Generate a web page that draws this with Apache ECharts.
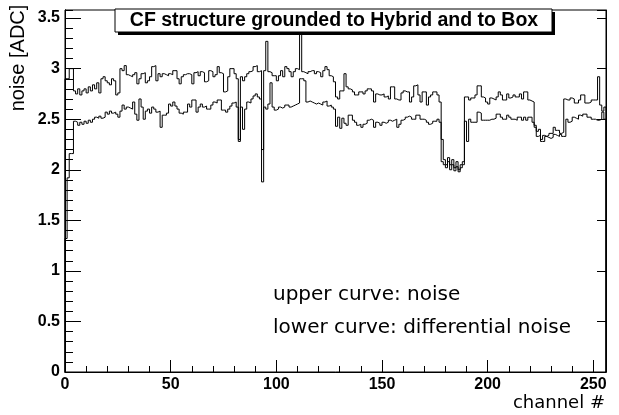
<!DOCTYPE html>
<html>
<head>
<meta charset="utf-8">
<script src="https://cdn.jsdelivr.net/npm/echarts@6/dist/echarts.min.js"></script>
<style>
  html, body { margin: 0; padding: 0; background: #fff; }
  #chart { width: 619px; height: 415px; }
</style>
</head>
<body>
<div id="chart"></div>
<script>
// noise per channel (bin k covers [k, k+1])
const upperNoise = [
  2.90, 2.90, 3.00, 3.00, 2.78, 2.75, 2.80, 2.74, 2.78, 2.80,
  2.76, 2.82, 2.78, 2.84, 2.80, 2.86, 2.76, 2.90, 2.92, 2.88,
  2.86, 2.84, 2.90, 2.88, 2.74, 2.76, 3.00, 2.98, 3.03, 2.94,
  2.93, 2.92, 2.94, 2.96, 2.85, 2.90, 2.95, 2.96, 2.86, 2.88,
  2.92, 3.02, 3.03, 2.88, 2.95, 2.92, 2.95, 2.94, 2.93, 2.95,
  2.94, 2.98, 2.98, 2.90, 2.85, 2.92, 2.94, 2.95, 2.95, 2.94,
  2.85, 2.96, 2.97, 2.93, 2.97, 2.96, 2.87, 2.88, 2.98, 2.97,
  2.92, 2.94, 3.02, 2.96, 2.95, 2.77, 2.78, 2.92, 3.00, 3.00,
  2.95, 2.90, 2.28, 2.92, 2.88, 2.92, 2.95, 2.97, 2.98, 3.02,
  3.03, 2.97, 2.98, 1.88, 2.98, 3.27, 2.97, 2.96, 2.93, 2.93,
  2.88, 2.93, 2.98, 2.92, 3.02, 3.00, 2.97, 2.92, 2.97, 3.00,
  2.99, 3.36, 2.97, 2.96, 2.95, 2.97, 2.98, 2.98, 2.95, 2.97,
  2.96, 2.92, 2.98, 3.02, 2.99, 2.93, 2.92, 2.87, 2.72, 2.70,
  2.78, 2.78, 2.95, 2.82, 2.80, 2.79, 2.77, 2.74, 2.74, 2.77,
  2.77, 2.75, 2.78, 2.80, 2.80, 2.78, 2.67, 2.75, 2.74, 2.74,
  2.75, 2.72, 2.73, 2.70, 2.82, 2.82, 2.70, 2.69, 2.69, 2.76,
  2.78, 2.77, 2.77, 2.67, 2.72, 2.83, 2.84, 2.74, 2.67, 2.77,
  2.77, 2.64, 2.72, 2.74, 2.77, 2.77, 2.74, 2.67, 2.30, 2.10,
  2.05, 2.12, 2.05, 2.10, 2.02, 2.08, 2.00, 2.05, 2.08, 2.72,
  2.72, 2.69, 2.71, 2.71, 2.74, 2.83, 2.83, 2.72, 2.71, 2.67,
  2.65, 2.71, 2.70, 2.69, 2.72, 2.77, 2.74, 2.69, 2.69, 2.75,
  2.71, 2.72, 2.74, 2.72, 2.72, 2.75, 2.70, 2.77, 2.77, 2.69,
  2.68, 2.67, 2.44, 2.38, 2.40, 2.30, 2.34, 2.33, 2.34, 2.36,
  2.36, 2.42, 2.39, 2.39, 2.36, 2.37, 2.70, 2.69, 2.69, 2.71,
  2.70, 2.66, 2.66, 2.69, 2.74, 2.74, 2.66, 2.66, 2.67, 2.69,
  2.69, 2.69, 2.92, 2.64, 2.58, 2.62
];
const lowerNoise = [
  1.32, 1.92, 2.16, 2.16, 2.48, 2.47, 2.44, 2.47, 2.45, 2.48,
  2.46, 2.49, 2.47, 2.50, 2.52, 2.51, 2.53, 2.51, 2.52, 2.57,
  2.55, 2.58, 2.56, 2.57, 2.55, 2.52, 2.58, 2.64, 2.60, 2.62,
  2.61, 2.60, 2.67, 2.55, 2.49, 2.70, 2.62, 2.50, 2.58, 2.60,
  2.56, 2.62, 2.60, 2.57, 2.58, 2.42, 2.54, 2.54, 2.56, 2.65,
  2.63, 2.67, 2.63, 2.60, 2.56, 2.55, 2.57, 2.57, 2.65, 2.62,
  2.69, 2.69, 2.57, 2.62, 2.65, 2.62, 2.63, 2.60, 2.60, 2.64,
  2.67, 2.66, 2.69, 2.69, 2.59, 2.59, 2.57, 2.60, 2.63, 2.66,
  2.67, 2.62, 2.30, 2.62, 2.40, 2.60, 2.67, 2.66, 2.70, 2.73,
  2.75, 2.72, 2.70, 2.20, 2.62, 2.60, 2.65, 2.86, 2.62, 2.59,
  2.60, 2.62, 2.61, 2.62, 2.64, 2.64, 2.62, 2.63, 2.64, 2.65,
  2.66, 2.90, 2.90, 2.88, 2.67, 2.68, 2.67, 2.66, 2.65, 2.66,
  2.65, 2.64, 2.67, 2.68, 2.63, 2.64, 2.62, 2.60, 2.43, 2.52,
  2.41, 2.51, 2.46, 2.44, 2.54, 2.54, 2.49, 2.47, 2.44, 2.45,
  2.42, 2.45, 2.46, 2.49, 2.50, 2.49, 2.42, 2.47, 2.46, 2.44,
  2.47, 2.46, 2.47, 2.49, 2.48, 2.49, 2.50, 2.42, 2.45, 2.49,
  2.50, 2.52, 2.53, 2.52, 2.50, 2.50, 2.54, 2.54, 2.50, 2.50,
  2.49, 2.47, 2.45, 2.46, 2.48, 2.48, 2.50, 2.47, 2.08, 2.05,
  2.02, 2.08, 2.00, 2.05, 1.99, 2.03, 1.98, 2.02, 2.05, 2.48,
  2.28, 2.50, 2.47, 2.47, 2.47, 2.57, 2.56, 2.49, 2.49, 2.49,
  2.49, 2.50, 2.50, 2.51, 2.55, 2.55, 2.52, 2.50, 2.50, 2.54,
  2.52, 2.50, 2.50, 2.49, 2.52, 2.52, 2.49, 2.52, 2.49, 2.52,
  2.52, 2.47, 2.42, 2.33, 2.34, 2.28, 2.28, 2.33, 2.32, 2.31,
  2.32, 2.35, 2.34, 2.33, 2.35, 2.33, 2.33, 2.50, 2.47, 2.48,
  2.52, 2.51, 2.50, 2.54, 2.53, 2.55, 2.55, 2.52, 2.52, 2.50,
  2.50, 2.49, 2.49, 2.50, 2.57, 2.50
];
const xTicks = [0, 50, 100, 150, 200, 250];
const yTicks = [0, 0.5, 1, 1.5, 2, 2.5, 3, 3.5];
const notes = ['upper curve: noise', 'lower curve: differential noise'];

// histogram outline, ROOT style: rises from 0 at the left edge and drops back at the right
function histOutline(vals) {
  const pts = [[0, 0]];
  vals.forEach((v, k) => {
    pts.push([k, v], [k + 1, v]);
  });
  pts.push([vals.length, 0]);
  return pts;
}

const chart = echarts.init(document.getElementById('chart'));
const axisFont = { fontFamily: 'Liberation Sans', fontWeight: 'bold', fontSize: 16, color: '#000' };
const blackLine = { show: true, lineStyle: { color: '#000', width: 1 } };

const option = {
  animation: false,
  backgroundColor: '#fff',
  grid: { left: 65, right: 13, top: 10, bottom: 43, show: true, borderColor: '#000', borderWidth: 1 },
  xAxis: [
    {
      type: 'value', min: 0, max: 256, interval: 50,
      axisLine: blackLine,
      axisTick: { show: true, inside: true, length: 12, lineStyle: { color: '#000' } },
      axisLabel: {
        ...axisFont, margin: 5, showMaxLabel: false,
        formatter: v => (xTicks.includes(v) ? String(v) : '')
      },
      splitLine: { show: false }
    },
    {
      type: 'value', min: 0, max: 256, interval: 10, position: 'bottom',
      axisLine: blackLine,
      axisTick: { show: true, inside: true, length: 6, lineStyle: { color: '#000' } },
      axisLabel: { show: false },
      splitLine: { show: false }
    }
  ],
  yAxis: [
    {
      type: 'value', min: 0, max: 3.58, interval: 0.5,
      axisLine: blackLine,
      axisTick: { show: true, inside: true, length: 16, lineStyle: { color: '#000' } },
      axisLabel: {
        ...axisFont, margin: 5, showMaxLabel: false,
        formatter: v => (yTicks.includes(v) ? String(v) : '')
      },
      splitLine: { show: false }
    },
    {
      type: 'value', min: 0, max: 3.58, interval: 0.1, position: 'left',
      axisLine: blackLine,
      axisTick: { show: true, inside: true, length: 8, lineStyle: { color: '#000' } },
      axisLabel: { show: false },
      splitLine: { show: false }
    },
    {
      type: 'value', min: 0, max: 3.58, interval: 0.5, position: 'right',
      axisLine: blackLine,
      axisTick: { show: true, inside: true, length: 9, lineStyle: { color: '#000' } },
      axisLabel: { show: false },
      splitLine: { show: false }
    }
  ],
  series: [
    {
      name: 'noise', type: 'line', xAxisIndex: 0, yAxisIndex: 0,
      data: histOutline(upperNoise), showSymbol: false, silent: true,
      lineStyle: { color: '#000', width: 1 }
    },
    {
      name: 'differential noise', type: 'line', xAxisIndex: 0, yAxisIndex: 0,
      data: histOutline(lowerNoise), showSymbol: false, silent: true,
      lineStyle: { color: '#000', width: 1 }
    }
  ],
  graphic: [
    // title box with drop shadow
    { type: 'rect', shape: { x: 118, y: 12, width: 437, height: 23 }, style: { fill: '#000' }, z: 10 },
    { type: 'rect', shape: { x: 115, y: 9, width: 437, height: 23 }, style: { fill: '#fff', stroke: '#000', lineWidth: 1 }, z: 11 },
    {
      type: 'text', x: 334, y: 21, z: 12,
      style: {
        text: 'CF structure grounded to Hybrid and to Box',
        font: 'bold 19.5px "Liberation Sans"', fill: '#000',
        textAlign: 'center', textVerticalAlign: 'middle'
      }
    },
    {
      type: 'text', x: 18, y: 58, rotation: Math.PI / 2, z: 12,
      style: {
        text: 'noise [ADC]', font: '20px "Liberation Sans"', fill: '#000',
        textAlign: 'center', textVerticalAlign: 'middle'
      }
    },
    {
      type: 'text', x: 605, y: 403, z: 12,
      style: {
        text: 'channel #', font: '18px "DejaVu Sans"', fill: '#000',
        textAlign: 'right', textVerticalAlign: 'middle'
      }
    },
    {
      type: 'text', x: 273, y: 295, z: 12,
      style: { text: notes[0], font: '20px "DejaVu Sans"', fill: '#000', textVerticalAlign: 'middle' }
    },
    {
      type: 'text', x: 273, y: 328, z: 12,
      style: { text: notes[1], font: '20px "DejaVu Sans"', fill: '#000', textVerticalAlign: 'middle' }
    }
  ]
};

chart.setOption(option);
window.addEventListener('resize', () => chart.resize());
</script>
</body>
</html>
